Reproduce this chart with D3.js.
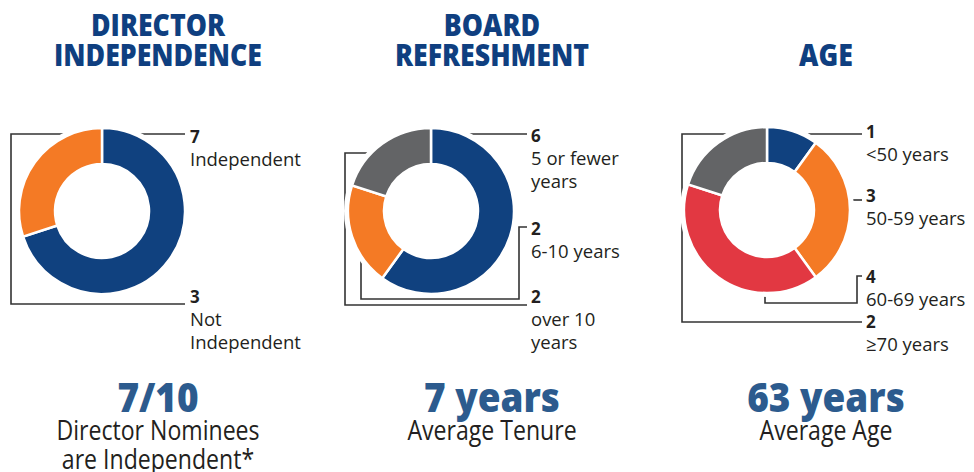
<!DOCTYPE html>
<html>
<head>
<meta charset="utf-8">
<script src="https://cdn.jsdelivr.net/npm/d3@7"></script>
<style>
  body { margin: 0; background: #fff; }
  svg { display: block; font-family: "Open Sans", sans-serif; }
</style>
</head>
<body>
<script>
// ---- data ----
const titles = [["DIRECTOR", "INDEPENDENCE"], ["BOARD", "REFRESHMENT"], ["AGE"]];

const independenceValues = [7, 3];
const independenceLabels = [["Independent"], ["Not", "Independent"]];

const tenureValues = [6, 2, 2];
const tenureLabels = [["5 or fewer", "years"], ["6-10 years"], ["over 10", "years"]];

const ageValues = [1, 3, 4, 2];
const ageLabels = [["<50 years"], ["50-59 years"], ["60-69 years"], ["\u226570 years"]];

const summaryValues = ["7/10", "7 years", "63 years"];
const summaryLabels = [["Director Nominees", "are Independent*"], ["Average Tenure"], ["Average Age"]];

// ---- style ----
const W = 974, H = 472;
const blue = "#10417f", orange = "#f47a25", gray = "#636466", red = "#e23842";
const titleBlue = "#0f3f80", valueBlue = "#2c5b8e", ink = "#231f20";
const R = 83, r = 47;

const svg = d3.select("body").append("svg")
  .attr("width", W).attr("height", H);

// leader paths relative to donut center, label baselines absolute
const charts = [
  {
    cx: 102, cy: 211, tx: 158, values: independenceValues, labels: independenceLabels,
    colors: [blue, orange],
    paths: ["M0,-77H83", "M0,-77H-91V93H83"],
    lx: 190, ly: [143, 303]
  },
  {
    cx: 431, cy: 211, tx: 492, values: tenureValues, labels: tenureLabels,
    colors: [blue, orange, gray],
    paths: ["M0,-77H96", "M-70,30V88H88V16H96", "M-60,-58H-86V94H96"],
    lx: 531, ly: [142, 235, 303]
  },
  {
    cx: 767, cy: 210, tx: 826, values: ageValues, labels: ageLabels,
    colors: [blue, orange, red, gray],
    paths: ["M0,-76H95", "M80,-10H95", "M-2,80V93H90V66H95", "M0,-76H-85V112H95"],
    lx: 866, ly: [138, 202, 283, 328]
  }
];

const pie = d3.pie().sort(null).value(d => d);
const arc = d3.arc().innerRadius(r).outerRadius(R);

charts.forEach((c, i) => {
  // title (one text, stacked lines)
  const t = svg.append("g")
    .attr("transform", `translate(${c.tx},0) scale(0.89,1)`)
    .append("text")
    .attr("text-anchor", "middle")
    .attr("font-size", 30)
    .attr("font-weight", 800)
    .attr("fill", titleBlue);
  titles[i].forEach((line, k) => {
    t.append("tspan")
      .attr("x", 0)
      .attr("y", (titles[i].length === 1 ? 66 : 36 + k * 30))
      .text(line);
  });

  const g = svg.append("g").attr("transform", `translate(${c.cx},${c.cy})`);

  // leader lines
  g.selectAll("path.leader")
    .data(c.paths)
    .enter().append("path")
    .attr("class", "leader")
    .attr("d", d => d)
    .attr("fill", "none")
    .attr("stroke", "#333")
    .attr("stroke-width", 1.6);

  // white halo so lines stop short of the ring
  g.append("circle").attr("r", R + 4).attr("fill", "#fff");

  g.selectAll("path.slice")
    .data(pie(c.values))
    .enter().append("path")
    .attr("class", "slice")
    .attr("d", arc)
    .attr("fill", (d, j) => c.colors[j])
    .attr("stroke", "#fff")
    .attr("stroke-width", 2.5);

  // labels
  c.values.forEach((v, j) => {
    const txt = svg.append("text")
      .attr("x", c.lx)
      .attr("y", c.ly[j])
      .attr("font-size", 18.5)
      .attr("fill", ink);
    txt.append("tspan").attr("x", c.lx).attr("font-weight", 700)
      .attr("font-size", 17).text(v);
    c.labels[j].forEach(line => {
      txt.append("tspan").attr("x", c.lx).attr("dy", 23).text(line);
    });
  });

  // summary
  const s = svg.append("g")
    .attr("transform", `translate(${c.tx},0) scale(0.9,1)`);
  s.append("text")
    .attr("y", 412)
    .attr("text-anchor", "middle")
    .attr("font-size", 41)
    .attr("font-weight", 800)
    .attr("fill", valueBlue)
    .text(summaryValues[i]);
  const sub = svg.append("g")
    .attr("transform", `translate(${c.tx},0) scale(0.84,1)`)
    .append("text")
    .attr("text-anchor", "middle")
    .attr("font-size", 27.5)
    .attr("font-weight", 400)
    .attr("fill", ink);
  summaryLabels[i].forEach((line, k) => {
    sub.append("tspan")
      .attr("x", 0)
      .attr("y", 440 + k * 29)
      .text(line);
  });
});
</script>
</body>
</html>
